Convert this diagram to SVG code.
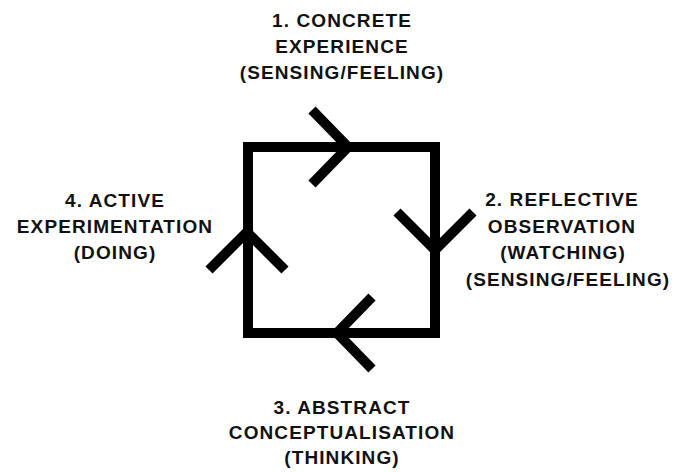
<svg xmlns="http://www.w3.org/2000/svg" width="689" height="472" viewBox="0 0 689 472">
<style>
.lbl{font-family:"Liberation Sans",Arial,sans-serif;font-weight:bold;font-size:19px;fill:#111;text-anchor:middle;letter-spacing:1.1px}
.ln{fill:none;stroke:#000;stroke-width:10;stroke-linecap:butt;stroke-linejoin:miter;stroke-miterlimit:10}
</style>
<rect width="689" height="472" fill="#fff"/>
<g id="connectors">
<rect class="ln" x="248" y="147" width="187" height="186"/>
<path class="ln" d="M312,110 L348,147 L312,184"/>
<path class="ln" d="M397,212 L435,250 L473,212"/>
<path class="ln" d="M372,297 L337,333 L372,369"/>
<path class="ln" d="M209,270 L247,232 L285,270"/>
</g>
<g id="node1">
<text class="lbl" x="342" y="27">1. CONCRETE</text>
<text class="lbl" x="342" y="53">EXPERIENCE</text>
<text class="lbl" x="342" y="79">(SENSING/FEELING)</text>
</g>
<g id="node2">
<text class="lbl" x="562" y="206">2. REFLECTIVE</text>
<text class="lbl" x="562" y="233">OBSERVATION</text>
<text class="lbl" x="563" y="259">(WATCHING)</text>
<text class="lbl" x="568" y="286">(SENSING/FEELING)</text>
</g>
<g id="node3">
<text class="lbl" x="342" y="414">3. ABSTRACT</text>
<text class="lbl" x="342" y="439">CONCEPTUALISATION</text>
<text class="lbl" x="342" y="464">(THINKING)</text>
</g>
<g id="node4">
<text class="lbl" x="115" y="207">4. ACTIVE</text>
<text class="lbl" x="115" y="233">EXPERIMENTATION</text>
<text class="lbl" x="115" y="259">(DOING)</text>
</g>
</svg>
